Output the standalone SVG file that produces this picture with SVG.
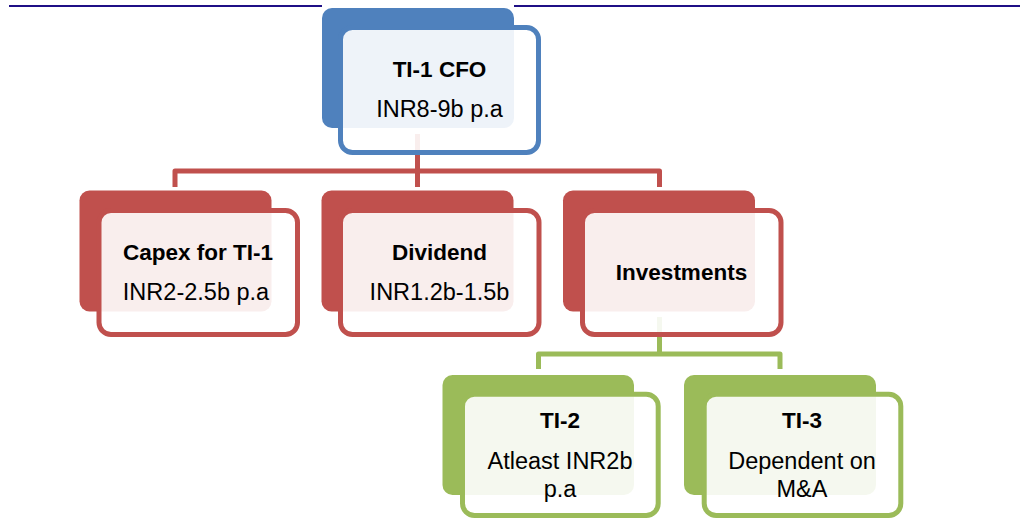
<svg xmlns="http://www.w3.org/2000/svg" width="1029" height="522" viewBox="0 0 1029 522">
  <style>
    .rule { stroke: #1F0F86; stroke-width: 2; fill: none; }
    .back { stroke: none; }
    .front { fill: #FFFFFF; fill-opacity: 0.9; stroke-width: 5; }
    .blue .back { fill: #4F81BD; }
    .blue .front { stroke: #4F81BD; }
    .red .back { fill: #C0504D; }
    .red .front { stroke: #C0504D; }
    .green .back { fill: #9BBB59; }
    .green .front { stroke: #9BBB59; }
    .link { fill: none; stroke-width: 5; stroke-linejoin: round; }
    .link.red { stroke: #C0504D; }
    .link.green { stroke: #9BBB59; }
    text { font-family: "Liberation Sans", Arial, sans-serif; fill: #000000; text-anchor: middle; }
    .title { font-weight: bold; font-size: 22.5px; }
    .value { font-size: 23.5px; }
  </style>

  <!-- header rule, broken where the top card sits -->
  <line class="rule" x1="9" y1="6" x2="322" y2="6"/>
  <line class="rule" x1="514" y1="6" x2="1020" y2="6"/>

  <!-- connectors -->
  <g id="connectors">
    <path class="link red" d="M417.5,134 V187"/>
    <path class="link red" d="M175,187 V171 H659.5 V187"/>
    <path class="link green" d="M659.5,317 V354"/>
    <path class="link green" d="M538.5,369 V354 H780 V369"/>
  </g>

  <!-- root -->
  <g id="ti1-cfo" class="blue">
    <rect class="back" x="322" y="8" width="192" height="120" rx="10"/>
    <rect class="front" x="340.5" y="27.5" width="198" height="125" rx="12"/>
    <text class="title" x="439.5" y="77">TI-1 CFO</text>
    <text class="value" x="439.5" y="117">INR8-9b p.a</text>
  </g>

  <!-- second level -->
  <g id="capex" class="red">
    <rect class="back" x="79.5" y="190.5" width="192" height="121" rx="10"/>
    <rect class="front" x="99" y="210.5" width="198.5" height="124" rx="12"/>
    <text class="title" x="198" y="260">Capex for TI-1</text>
    <text class="value" x="196" y="300">INR2-2.5b p.a</text>
  </g>

  <g id="dividend" class="red">
    <rect class="back" x="321.5" y="190.5" width="192" height="121" rx="10"/>
    <rect class="front" x="340.5" y="210.5" width="198.5" height="124" rx="12"/>
    <text class="title" x="439.5" y="260">Dividend</text>
    <text class="value" x="439.5" y="300">INR1.2b-1.5b</text>
  </g>

  <g id="investments" class="red">
    <rect class="back" x="563" y="190.5" width="192" height="121" rx="10"/>
    <rect class="front" x="582.5" y="210.5" width="198.5" height="124" rx="12"/>
    <text class="title" x="681.5" y="280">Investments</text>
  </g>

  <!-- third level -->
  <g id="ti2" class="green">
    <rect class="back" x="442.5" y="375" width="191.5" height="120" rx="10"/>
    <rect class="front" x="462.5" y="394.2" width="195.7" height="121.3" rx="12"/>
    <text class="title" x="560" y="428">TI-2</text>
    <text class="value" x="560" y="469">Atleast INR2b</text>
    <text class="value" x="560" y="497">p.a</text>
  </g>

  <g id="ti3" class="green">
    <rect class="back" x="684" y="375" width="192" height="120" rx="10"/>
    <rect class="front" x="704.2" y="394.2" width="196.6" height="121.3" rx="12"/>
    <text class="title" x="802" y="428">TI-3</text>
    <text class="value" x="802" y="469">Dependent on</text>
    <text class="value" x="802" y="497">M&amp;A</text>
  </g>
</svg>
